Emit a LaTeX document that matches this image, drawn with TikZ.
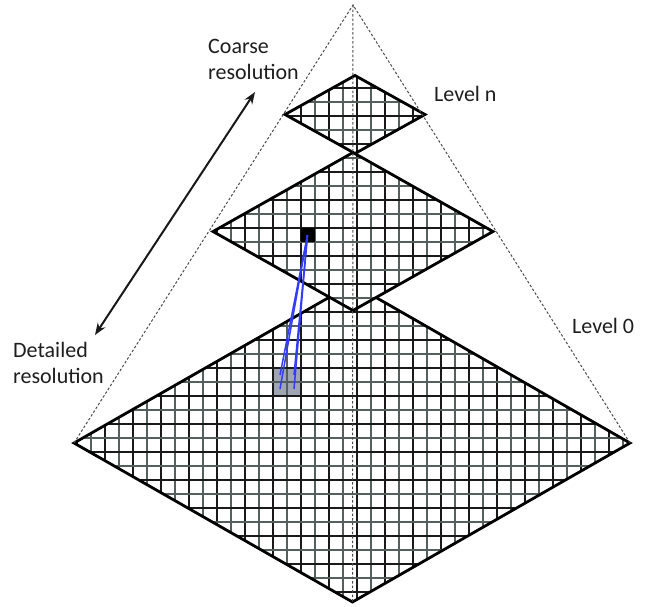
\documentclass[tikz,border=0pt]{standalone}
\usepackage{fontspec}
\setmainfont{Carlito}
\usetikzlibrary{arrows.meta}
\definecolor{txt}{RGB}{30,30,30}
\definecolor{cellgray}{RGB}{160,165,180}
\definecolor{linkblue}{RGB}{50,60,245}
\definecolor{lightline}{RGB}{85,95,93}
\tikzset{
  gridline/.style={draw=black!90, line width=1.2pt},
  gridlight/.style={draw=lightline, line width=1.1pt},
  rim/.style={draw=black, line width=2.8pt, line join=miter},
  guide/.style={draw=black!70, line width=1pt, dash pattern=on 2.5pt off 2pt},
  lbl/.style={font=\fontsize{22}{24}\selectfont, text=txt, inner sep=0pt, anchor=base west},
  link/.style={draw=linkblue, line width=1.5pt},
  dbl/.style={draw=black!90, line width=2pt, {Stealth[length=12pt,width=9pt]}-{Stealth[length=12pt,width=9pt]}}
}
\newcommand{\gridfill}{%
  \foreach \gx in {7,35,...,651} {\draw[gridlight] (\gx,0) -- (\gx,606);}
  \foreach \gx in {21,49,...,651} {\draw[gridline] (\gx,0) -- (\gx,606);}
  \foreach \gy in {18,46,...,606} {\draw[gridlight] (0,\gy) -- (651,\gy);}
  \foreach \gy in {4,32,...,606} {\draw[gridline] (0,\gy) -- (651,\gy);}
}
\begin{document}
\begin{tikzpicture}[x=1pt,y=-1pt]
\useasboundingbox (0,0) rectangle (651,606);
\fill[white] (0,0) rectangle (651,606);
% named points
\coordinate (apex) at (353,5);
\coordinate (bL) at (74,443);  \coordinate (bT) at (352.5,284);
\coordinate (bR) at (630,443); \coordinate (bB) at (352.5,602);
\coordinate (mL) at (213,231.5); \coordinate (mT) at (353,152.5);
\coordinate (mR) at (493,231.5); \coordinate (mB) at (353,310.5);
\coordinate (tL) at (285,114.5); \coordinate (tT) at (355,75.5);
\coordinate (tR) at (425,114.5); \coordinate (tB) at (355,153.5);
% big diamond
\begin{scope}
  \clip (bL) -- (bT) -- (bR) -- (bB) -- cycle;
  \fill[cellgray] (273,368) rectangle (301,396);
  \gridfill
\end{scope}
\draw[rim] (bL) -- (bT) -- (bR) -- (bB) -- cycle;
% middle diamond
\begin{scope}
  \clip (mL) -- (mT) -- (mR) -- (mB) -- cycle;
  \fill[white] (mL) -- (mT) -- (mR) -- (mB) -- cycle;
  \gridfill
  \fill[black] (301,228) rectangle (315,242);
\end{scope}
\draw[rim] (mL) -- (mT) -- (mR) -- (mB) -- cycle;
% top diamond
\begin{scope}
  \clip (tL) -- (tT) -- (tR) -- (tB) -- cycle;
  \fill[white] (tL) -- (tT) -- (tR) -- (tB) -- cycle;
  \gridfill
\end{scope}
\draw[rim] (tL) -- (tT) -- (tR) -- (tB) -- cycle;
% guides
\draw[guide] (bL) -- (apex) -- (bR);
\draw[guide] (apex) -- (bB);
% links
\coordinate (src) at (307.5,235);
\coordinate (c1) at (280,375); \coordinate (c2) at (294,375);
\coordinate (c3) at (280,389); \coordinate (c4) at (294,389);
\draw[link] (src) -- (c1);
\draw[link] (src) -- (c2);
\draw[link] (src) -- (c3);
\draw[link] (src) -- (c4);
% arrow
\coordinate (aTop) at (255,92);
\coordinate (aBot) at (95,335);
\draw[dbl] (aBot) -- (aTop);
% labels
\node[lbl] (coarse1) at (208,53) {Coarse};
\node[lbl] (coarse2) at (208,79) {resolution};
\node[lbl] (det1) at (13,357) {Detailed};
\node[lbl] (det2) at (13,383) {resolution};
\node[lbl] (lvn) at (434,101) {Level n};
\node[lbl] (lv0) at (572,333) {Level 0};
\end{tikzpicture}
\end{document}
